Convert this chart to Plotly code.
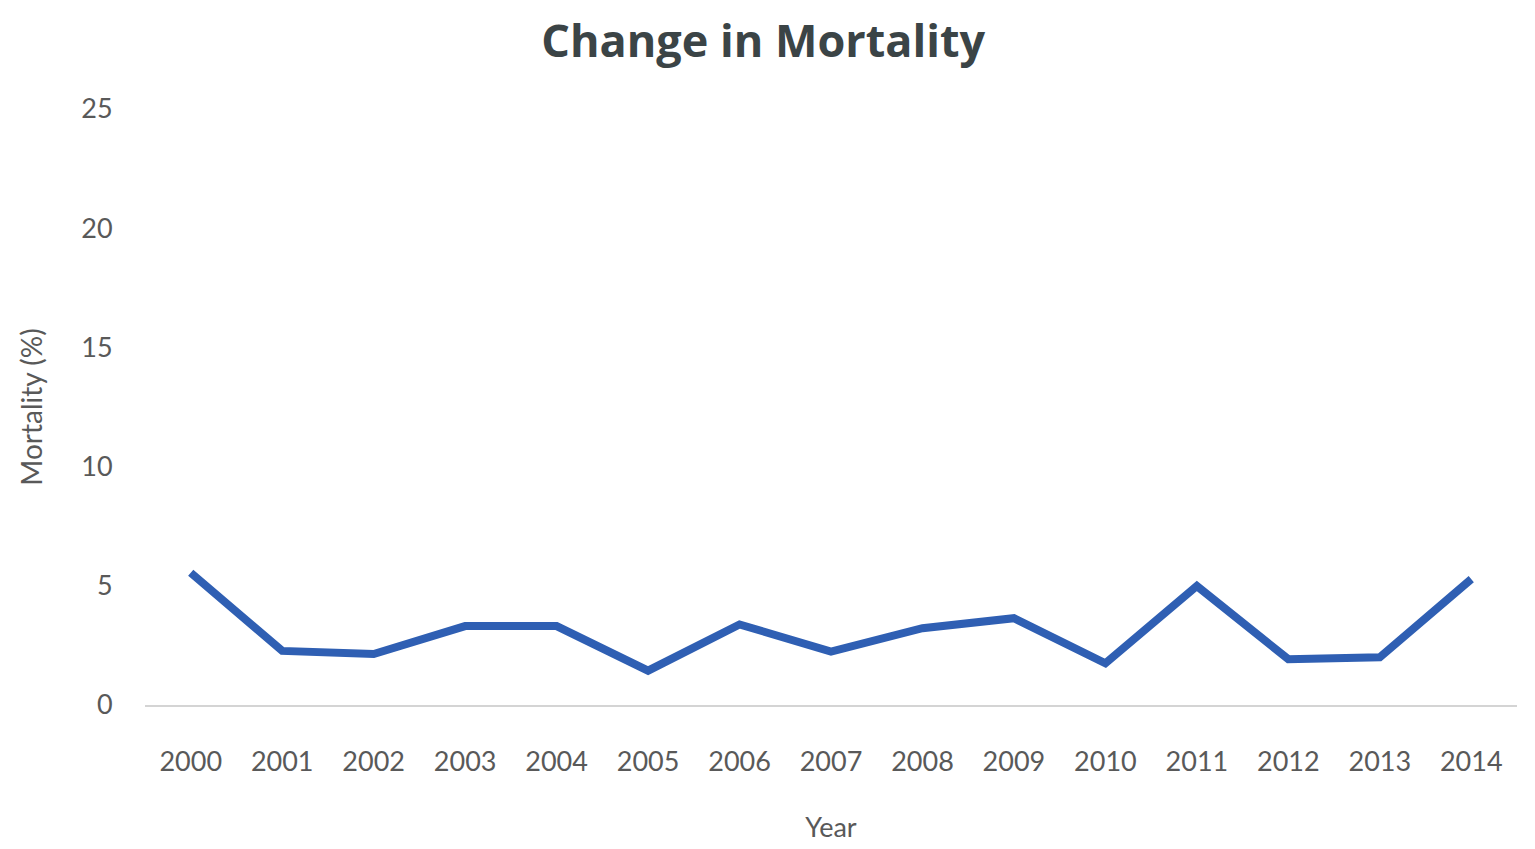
import plotly.graph_objects as go

years = ["2000", "2001", "2002", "2003", "2004", "2005", "2006", "2007",
         "2008", "2009", "2010", "2011", "2012", "2013", "2014"]
mortality = [5.55, 2.27, 2.14, 3.31, 3.31, 1.44, 3.38, 2.24,
             3.22, 3.64, 1.75, 4.99, 1.92, 2.0, 5.28]
y_ticks = [0, 5, 10, 15, 20, 25]

FONT = "Lato, 'Open Sans', sans-serif"

fig = go.Figure()
fig.add_trace(go.Scatter(
    x=years, y=mortality, mode="lines",
    line=dict(color="#2f5fb3", width=8),
    showlegend=False,
))

fig.update_layout(
    width=1535, height=849,
    paper_bgcolor="white", plot_bgcolor="white",
    margin=dict(l=137, r=26, t=101, b=152),
    title=dict(text="<b>Change in Mortality</b>", x=0.492, xanchor="center",
               y=0.961, yanchor="middle",
               font=dict(family="'Open Sans', Lato, sans-serif", size=45, color="#3b4446")),
    font=dict(family=FONT, color="#595959"),
)
fig.update_xaxes(
    type="category", range=[-0.5, 14.5],
    showline=True, linecolor="#d4d4d4", linewidth=2,
    showgrid=False, zeroline=False,
    ticks="outside", ticklen=32, tickcolor="rgba(0,0,0,0)",
    tickfont=dict(size=27, color="#595959"),
    title=dict(text="Year", font=dict(size=27, color="#595959"), standoff=42),
)
fig.update_yaxes(
    range=[0, 25], tickvals=y_ticks,
    showline=False, showgrid=False, zeroline=False,
    ticks="outside", ticklen=26, tickcolor="rgba(0,0,0,0)",
    tickfont=dict(size=27, color="#595959"),
    title=dict(text="Mortality (%)", font=dict(size=28, color="#595959"), standoff=30),
)

fig.write_html("out.html")
